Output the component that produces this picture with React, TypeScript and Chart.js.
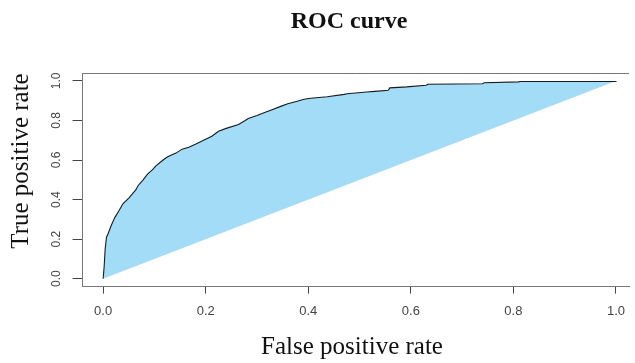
import { useEffect, useRef } from "react";
import { Chart, registerables } from "chart.js";

Chart.register(...registerables);

// ROC curve: false positive rate vs. true positive rate
const fpr = [
  0, 0.002, 0.004, 0.0066, 0.01, 0.016, 0.023, 0.03, 0.039, 0.051, 0.064, 0.068,
  0.078, 0.087, 0.096, 0.103, 0.112, 0.122, 0.129, 0.142, 0.154, 0.167, 0.18,
  0.196, 0.212, 0.225, 0.24, 0.264, 0.277, 0.283, 0.3, 0.315, 0.328, 0.345, 0.36,
  0.375, 0.392, 0.405, 0.437, 0.47, 0.476, 0.514, 0.53, 0.556, 0.559, 0.592,
  0.63, 0.633, 0.74, 0.743, 0.81, 0.813, 1.0, 1.0,
];
const tpr = [
  0, 0.06, 0.15, 0.21, 0.23, 0.27, 0.31, 0.34, 0.38, 0.41, 0.45, 0.47, 0.5, 0.53,
  0.55, 0.57, 0.59, 0.61, 0.62, 0.635, 0.655, 0.665, 0.68, 0.7, 0.72, 0.745,
  0.76, 0.78, 0.8, 0.81, 0.825, 0.84, 0.853, 0.87, 0.885, 0.895, 0.907, 0.912,
  0.92, 0.932, 0.935, 0.944, 0.947, 0.953, 0.965, 0.97, 0.978, 0.983, 0.986,
  0.991, 0.995, 0.997, 0.997, 1.0,
];

const xTicks = [0, 0.2, 0.4, 0.6, 0.8, 1.0];
const yTicks = [0, 0.2, 0.4, 0.6, 0.8, 1.0];

const chartTitle = "ROC curve";
const xTitle = "False positive rate";
const yTitle = "True positive rate";

const AREA_COLOR = "#a3dcf6";
const SERIF = "'Liberation Serif', 'DejaVu Serif', serif";
const SANS = "'Liberation Sans', Arial, sans-serif";

// Fills the region between the ROC curve and the chance diagonal
const areaFill = {
  id: "areaFill",
  beforeDatasetsDraw(chart: any) {
    const meta = chart.getDatasetMeta(0);
    const pts = meta.data;
    if (!pts.length) return;
    const { ctx, chartArea } = chart;
    ctx.save();
    ctx.beginPath();
    ctx.rect(chartArea.left, chartArea.top, chartArea.right - chartArea.left, chartArea.bottom - chartArea.top);
    ctx.clip();
    ctx.beginPath();
    ctx.moveTo(pts[0].x, pts[0].y);
    for (let i = 1; i < pts.length; i++) ctx.lineTo(pts[i].x, pts[i].y);
    ctx.closePath();
    ctx.fillStyle = AREA_COLOR;
    ctx.fill();
    ctx.restore();
  },
};

// Top edge of the plot box, vertical y tick labels and the titles
const frameAndTitles = {
  id: "frameAndTitles",
  afterDraw(chart: any) {
    const { ctx, chartArea } = chart;
    const yScale = chart.scales.y;
    ctx.save();
    ctx.strokeStyle = "#777";
    ctx.lineWidth = 1;
    ctx.beginPath();
    ctx.moveTo(chartArea.left, Math.round(chartArea.top) + 0.5);
    ctx.lineTo(chartArea.right, Math.round(chartArea.top) + 0.5);
    ctx.stroke();

    // y tick labels, reading bottom to top
    ctx.fillStyle = "#444";
    ctx.font = `12px ${SANS}`;
    ctx.textAlign = "center";
    ctx.textBaseline = "middle";
    for (const v of yTicks) {
      const py = yScale.getPixelForValue(v);
      ctx.save();
      ctx.translate(57, py);
      ctx.rotate(-Math.PI / 2);
      ctx.fillText(v.toFixed(1), 0, 0);
      ctx.restore();
    }

    ctx.fillStyle = "#111";
    ctx.textAlign = "center";
    ctx.textBaseline = "alphabetic";
    ctx.font = `bold 24px ${SERIF}`;
    ctx.fillText(chartTitle, 349, 28);

    ctx.font = `25px ${SERIF}`;
    ctx.fillText(xTitle, 352, 354);

    ctx.translate(27.5, 161);
    ctx.rotate(-Math.PI / 2);
    ctx.fillText(yTitle, 0, 0);
    ctx.restore();
  },
};

export default function App() {
  const canvasRef = useRef<HTMLCanvasElement | null>(null);

  useEffect(() => {
    const canvas = canvasRef.current;
    if (!canvas) return;
    const points = fpr.map((x, i) => ({ x, y: tpr[i] }));
    const chart = new Chart(canvas, {
      type: "scatter",
      data: {
        datasets: [
          {
            data: points,
            showLine: true,
            borderColor: "#1a1a1a",
            borderWidth: 1.1,
            pointRadius: 0,
            fill: false,
          },
        ],
      },
      options: {
        responsive: false,
        animation: false,
        devicePixelRatio: 1,
        layout: { padding: { top: 73, left: 0, right: 0, bottom: 0 } },
        plugins: {
          legend: { display: false },
          title: { display: false },
          tooltip: { enabled: false },
        },
        scales: {
          x: {
            type: "linear",
            min: -0.04,
            max: 1.0256,
            afterBuildTicks: (scale: any) => {
              scale.ticks = xTicks.map((v) => ({ value: v }));
            },
            afterFit: (scale: any) => {
              scale.height = 76.4;
            },
            ticks: {
              callback: (v: any) => Number(v).toFixed(1),
              font: { family: SANS, size: 13 },
              color: "#444",
              padding: 10,
              maxRotation: 0,
              minRotation: 0,
              autoSkip: false,
            },
            grid: {
              display: true,
              drawOnChartArea: false,
              drawTicks: true,
              tickLength: 7,
              color: "#444",
              lineWidth: 1,
            },
            border: { display: true, color: "#777", width: 1 },
          },
          y: {
            type: "linear",
            min: -0.04,
            max: 1.04,
            afterBuildTicks: (scale: any) => {
              scale.ticks = yTicks.map((v) => ({ value: v }));
            },
            afterFit: (scale: any) => {
              scale.width = 82.6;
            },
            ticks: {
              display: false,
              autoSkip: false,
            },
            grid: {
              display: true,
              drawOnChartArea: false,
              drawTicks: true,
              tickLength: 10,
              color: "#444",
              lineWidth: 1,
            },
            border: { display: true, color: "#777", width: 1 },
          },
        },
      },
      plugins: [areaFill, frameAndTitles],
    });
    return () => chart.destroy();
  }, []);

  return (
    <div
      style={{
        position: "fixed",
        left: 0,
        top: 0,
        width: 635,
        height: 363,
        background: "#fff",
      }}
    >
      <canvas ref={canvasRef} width={635} height={363} style={{ display: "block" }} />
    </div>
  );
}
